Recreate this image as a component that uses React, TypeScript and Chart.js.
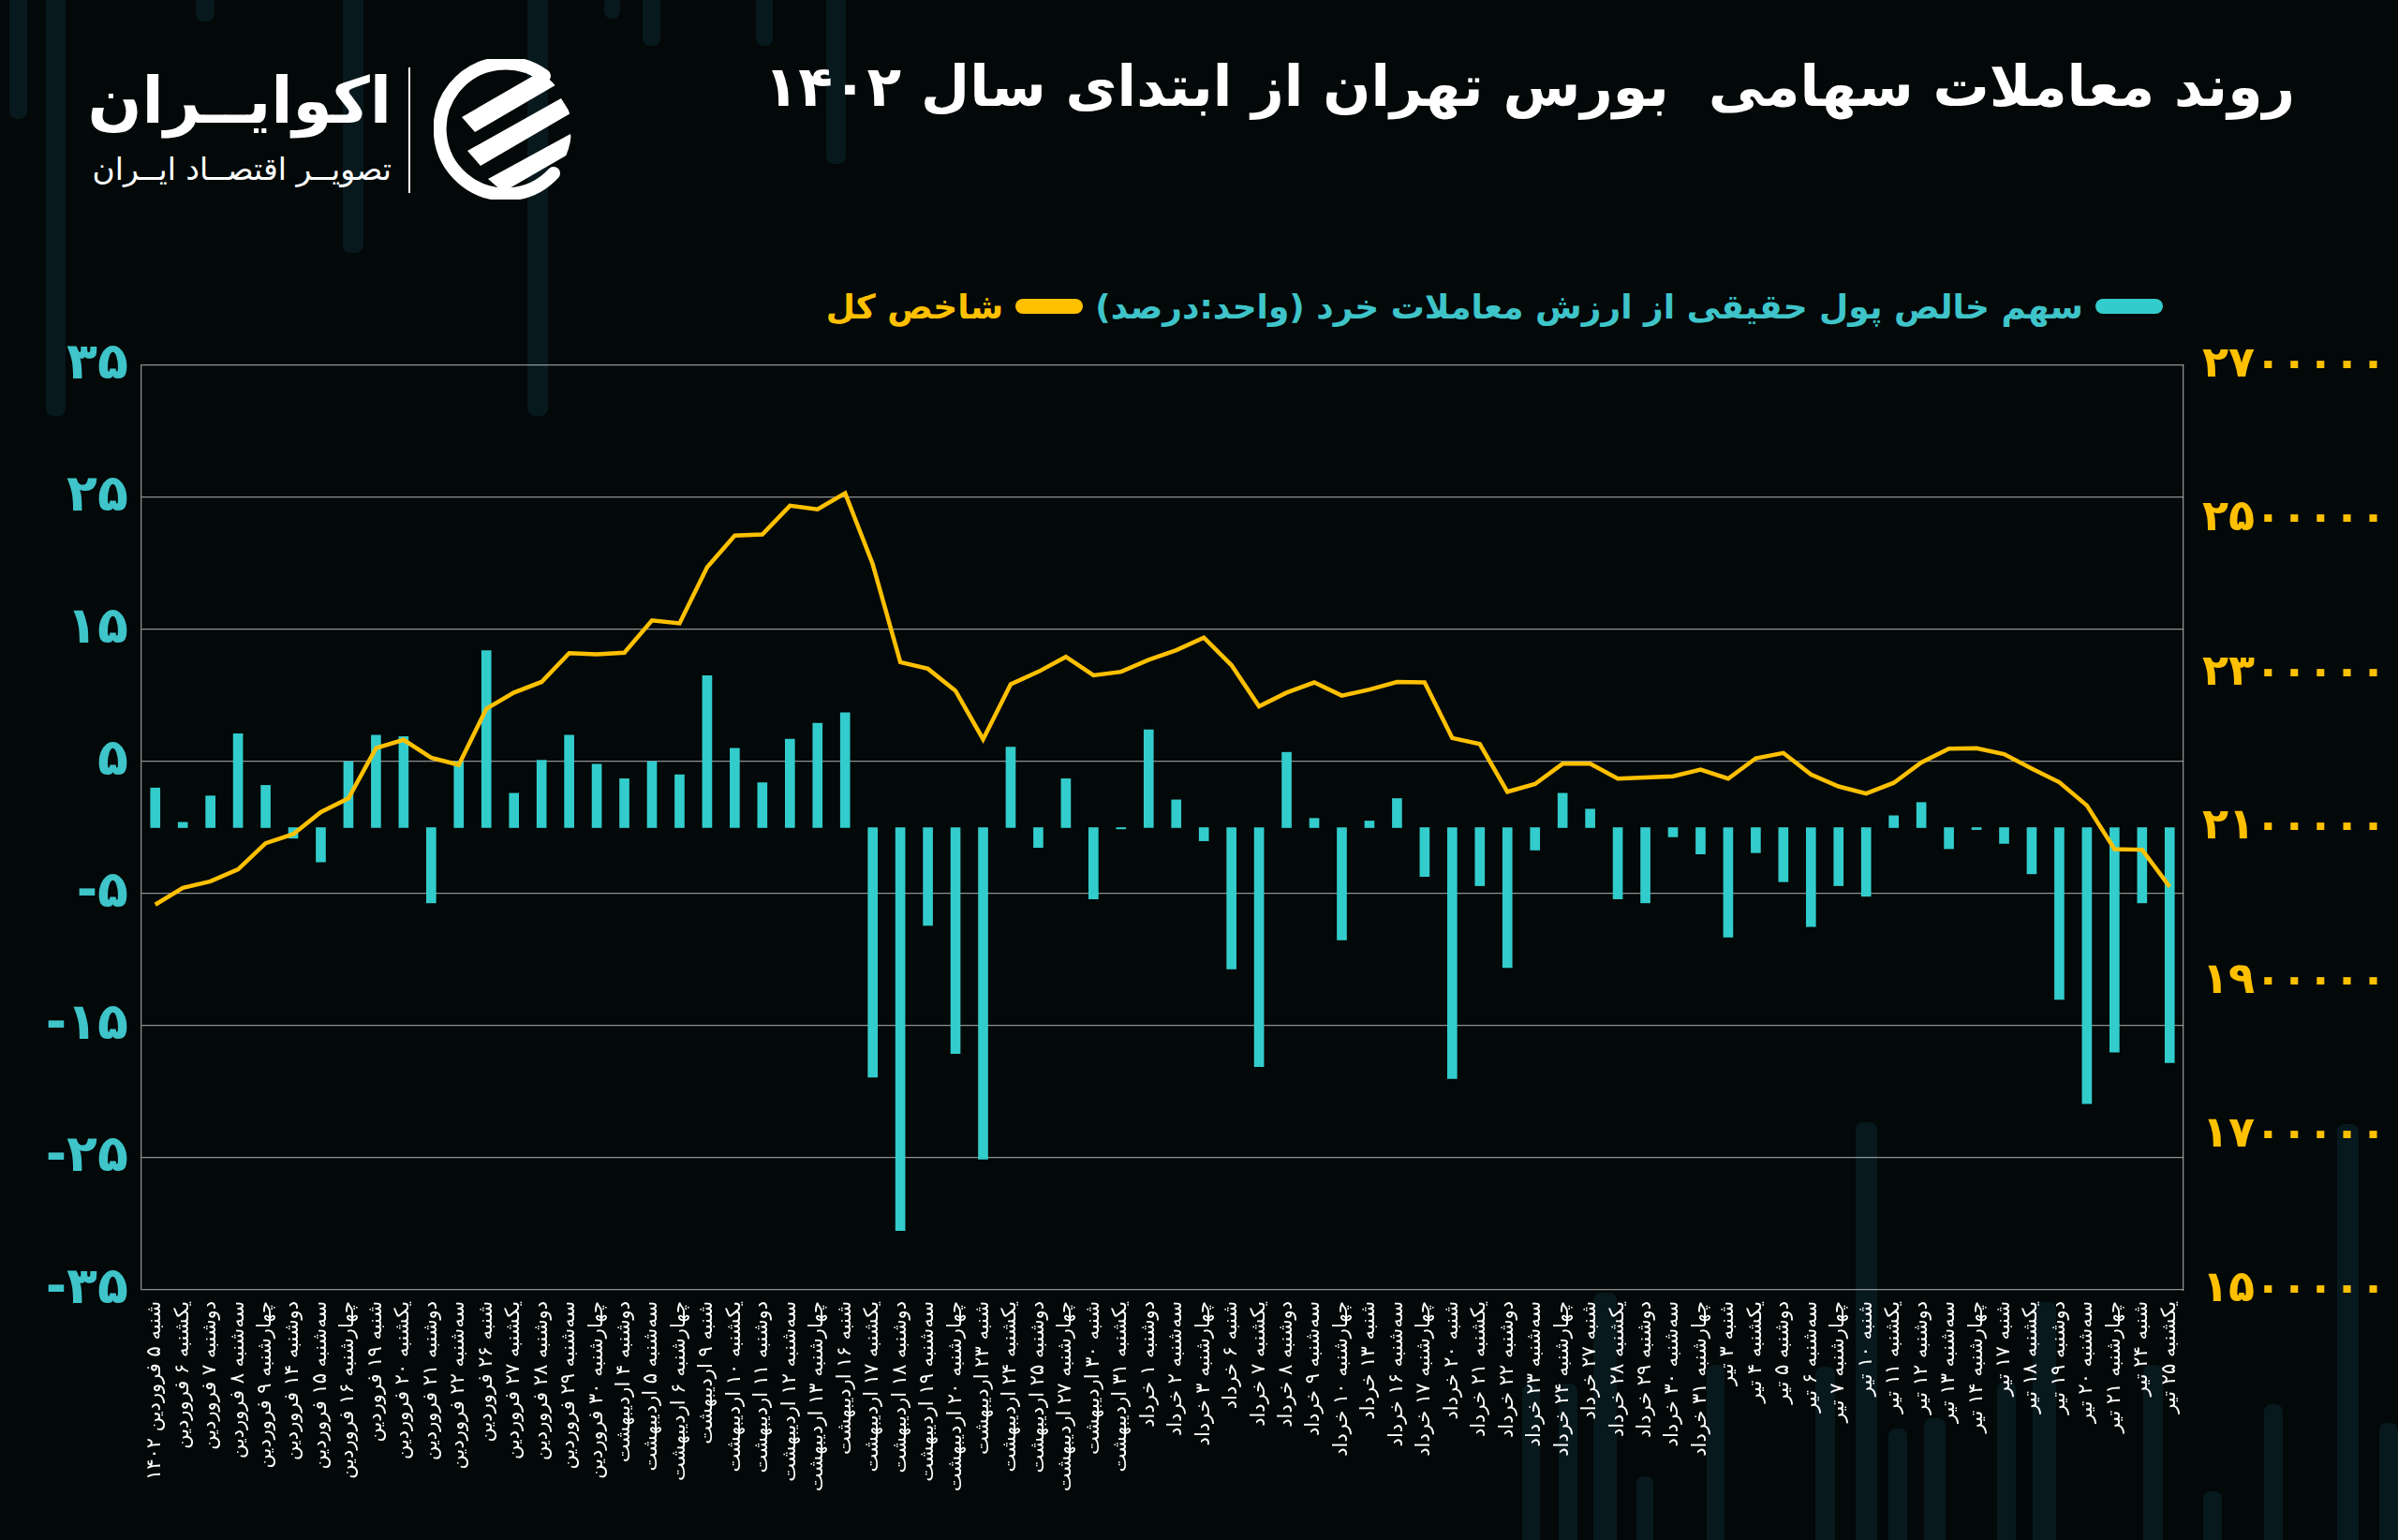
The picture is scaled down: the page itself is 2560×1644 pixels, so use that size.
import React, { useEffect, useRef } from "react";
import { Chart, registerables } from "chart.js";

Chart.register(...registerables);

// ---------------- DATA ----------------
const categories: string[] = [
  "شنبه ۵ فروردین ۱۴۰۲", "یکشنبه ۶ فروردین", "دوشنبه ۷ فروردین", "سه‌شنبه ۸ فروردین", "چهارشنبه ۹ فروردین",
  "دوشنبه ۱۴ فروردین", "سه‌شنبه ۱۵ فروردین", "چهارشنبه ۱۶ فروردین", "شنبه ۱۹ فروردین", "یکشنبه ۲۰ فروردین",
  "دوشنبه ۲۱ فروردین", "سه‌شنبه ۲۲ فروردین", "شنبه ۲۶ فروردین", "یکشنبه ۲۷ فروردین", "دوشنبه ۲۸ فروردین",
  "سه‌شنبه ۲۹ فروردین", "چهارشنبه ۳۰ فروردین", "دوشنبه ۴ اردیبهشت", "سه‌شنبه ۵ اردیبهشت", "چهارشنبه ۶ اردیبهشت",
  "شنبه ۹ اردیبهشت", "یکشنبه ۱۰ اردیبهشت", "دوشنبه ۱۱ اردیبهشت", "سه‌شنبه ۱۲ اردیبهشت", "چهارشنبه ۱۳ اردیبهشت",
  "شنبه ۱۶ اردیبهشت", "یکشنبه ۱۷ اردیبهشت", "دوشنبه ۱۸ اردیبهشت", "سه‌شنبه ۱۹ اردیبهشت", "چهارشنبه ۲۰ اردیبهشت",
  "شنبه ۲۳ اردیبهشت", "یکشنبه ۲۴ اردیبهشت", "دوشنبه ۲۵ اردیبهشت", "چهارشنبه ۲۷ اردیبهشت", "شنبه ۳۰ اردیبهشت",
  "یکشنبه ۳۱ اردیبهشت", "دوشنبه ۱ خرداد", "سه‌شنبه ۲ خرداد", "چهارشنبه ۳ خرداد", "شنبه ۶ خرداد",
  "یکشنبه ۷ خرداد", "دوشنبه ۸ خرداد", "سه‌شنبه ۹ خرداد", "چهارشنبه ۱۰ خرداد", "شنبه ۱۳ خرداد",
  "سه‌شنبه ۱۶ خرداد", "چهارشنبه ۱۷ خرداد", "شنبه ۲۰ خرداد", "یکشنبه ۲۱ خرداد", "دوشنبه ۲۲ خرداد",
  "سه‌شنبه ۲۳ خرداد", "چهارشنبه ۲۴ خرداد", "شنبه ۲۷ خرداد", "یکشنبه ۲۸ خرداد", "دوشنبه ۲۹ خرداد",
  "سه‌شنبه ۳۰ خرداد", "چهارشنبه ۳۱ خرداد", "شنبه ۳ تیر", "یکشنبه ۴ تیر", "دوشنبه ۵ تیر",
  "سه‌شنبه ۶ تیر", "چهارشنبه ۷ تیر", "شنبه ۱۰ تیر", "یکشنبه ۱۱ تیر", "دوشنبه ۱۲ تیر",
  "سه‌شنبه ۱۳ تیر", "چهارشنبه ۱۴ تیر", "شنبه ۱۷ تیر", "یکشنبه ۱۸ تیر", "دوشنبه ۱۹ تیر",
  "سه‌شنبه ۲۰ تیر", "چهارشنبه ۲۱ تیر", "شنبه ۲۴ تیر", "یکشنبه ۲۵ تیر",
];

// سهم خالص پول حقیقی از ارزش معاملات خرد (درصد)
const retailNetShare: number[] = [
  3.0, 0.4, 2.4, 7.1, 3.2, -0.8, -2.6, 5.0, 7.0, 6.9,
  -5.7, 5.0, 13.4, 2.6, 5.1, 7.0, 4.8, 3.7, 5.0, 4.0,
  11.5, 6.0, 3.4, 6.7, 7.9, 8.7, -18.9, -30.5, -7.4, -17.1,
  -25.1, 6.1, -1.5, 3.7, -5.4, -0.1, 7.4, 2.1, -1.0, -10.7,
  -18.1, 5.7, 0.7, -8.5, 0.5, 2.2, -3.7, -19.0, -4.4, -10.6,
  -1.7, 2.6, 1.4, -5.4, -5.7, -0.7, -2.0, -8.3, -1.9, -4.1,
  -7.5, -4.4, -5.2, 0.9, 1.9, -1.6, -0.15, -1.2, -3.5, -13.0,
  -20.9, -17.0, -5.7, -17.8,
];

// شاخص کل
const totalIndex: number[] = [
  2000000, 2021700, 2030200, 2045700, 2079800, 2091500, 2120100, 2138000, 2203100, 2213900,
  2190700, 2181400, 2254300, 2275200, 2289100, 2326400, 2324800, 2327100, 2369000, 2365100,
  2438000, 2479100, 2480600, 2517800, 2513200, 2534100, 2441900, 2314700, 2306200, 2277500,
  2214700, 2286000, 2302300, 2321700, 2297700, 2302300, 2317800, 2330200, 2346500, 2310900,
  2257400, 2275200, 2288400, 2271300, 2279100, 2289100, 2288400, 2216300, 2208500, 2146500,
  2156600, 2182900, 2182900, 2163600, 2165100, 2166700, 2175200, 2163600, 2189900, 2196900,
  2169000, 2153500, 2144200, 2158100, 2184500, 2202300, 2203100, 2195300, 2176700, 2158900,
  2128700, 2072100, 2071300, 2023300,
];

const leftMin = -35;
const leftMax = 35;
const leftStep = 10;
const rightMin = 1500000;
const rightMax = 2700000;
const rightStep = 200000;

const titleText = "روند معاملات سهامی  بورس تهران از ابتدای سال ۱۴۰۲";
const barSeriesName = "سهم خالص پول حقیقی از ارزش معاملات خرد (واحد:درصد)";
const lineSeriesName = "شاخص کل";

// ---------------- STYLE ----------------
const BG = "#030808";
const TEAL = "#33cccc";
const TEAL_TEXT = "#3ec4c9";
const GOLD = "#ffc000";
const GRID = "rgba(190,190,190,0.75)";
const FONT = '"DejaVu Sans", "Noto Sans", sans-serif';
const DECOR = "#08191e";

const faDigits = "۰۱۲۳۴۵۶۷۸۹";
const toFa = (v: number | string) => String(v).replace(/\d/g, (d) => faDigits[Number(d)]);

// decorative faint background columns [left, top, width, height]
const decorCols: number[][] = [
  [10, -10, 19, 137], [49, -10, 21, 454], [209, -10, 20, 33], [366, -10, 22, 280],
  [563, -10, 22, 454], [645, -10, 17, 30], [686, -10, 19, 59], [807, -10, 18, 59],
  [882, -10, 21, 185],
  [1625, 1477, 19, 200], [1664, 1477, 20, 200], [1701, 1380, 25, 300], [1747, 1576, 18, 100],
  [1822, 1457, 19, 200], [1938, 1459, 21, 200], [1981, 1198, 23, 460], [2016, 1525, 20, 130],
  [2054, 1514, 23, 140], [2132, 1475, 20, 180], [2170, 1390, 25, 270], [2288, 1457, 21, 200],
  [2352, 1592, 20, 60], [2417, 1499, 20, 160], [2495, 1200, 23, 460], [2540, 1519, 20, 140],
];

function LogoMark() {
  return (
    <svg width="150" height="150" viewBox="0 0 150 150" style={{ position: "absolute", left: 463, top: 63 }}>
      <defs>
        <clipPath id="cc">
          <circle cx="75" cy="75" r="72" />
        </clipPath>
      </defs>
      <path d="M 118 18 A 70 70 0 1 0 128 122" fill="none" stroke="#fff" strokeWidth="14" strokeLinecap="round" />
      <g clipPath="url(#cc)" fill="#fff">
        <polygon points="30,62 120,10 140,22 44,78" />
        <polygon points="36,98 136,42 146,58 50,114" />
        <polygon points="58,128 146,80 150,98 74,142" />
      </g>
    </svg>
  );
}

export default function App() {
  const canvasRef = useRef<HTMLCanvasElement | null>(null);

  useEffect(() => {
    const canvas = canvasRef.current;
    if (!canvas) return;
    Chart.defaults.font.family = FONT;
    const chart = new Chart(canvas, {
      type: "bar",
      data: {
        labels: categories,
        datasets: [
          {
            type: "line",
            label: lineSeriesName,
            data: totalIndex,
            yAxisID: "y1",
            borderColor: GOLD,
            backgroundColor: GOLD,
            borderWidth: 4.5,
            pointRadius: 0,
            tension: 0,
            fill: false,
            order: 0,
          } as any,
          {
            type: "bar",
            label: barSeriesName,
            data: retailNetShare,
            yAxisID: "y",
            backgroundColor: TEAL,
            barThickness: 10,
            order: 1,
          } as any,
        ],
      },
      options: {
        responsive: false,
        animation: false,
        devicePixelRatio: 1,
        layout: { padding: { top: 90, left: 0, right: 0, bottom: 0 } },
        plugins: {
          legend: { display: false },
          tooltip: { enabled: false },
          title: { display: false },
        },
        scales: {
          x: {
            grid: { display: false, drawTicks: false },
            border: { display: false },
            ticks: {
              autoSkip: false,
              maxRotation: 90,
              minRotation: 90,
              color: "#ffffff",
              font: { size: 21, family: FONT },
              padding: 12,
            },
            afterFit: (s: any) => {
              s.height = 267;
            },
          },
          y: {
            position: "left",
            min: leftMin,
            max: leftMax,
            ticks: {
              stepSize: leftStep,
              callback: (v: any) => toFa(v),
              color: TEAL_TEXT,
              font: { size: 54, weight: "bold", family: FONT },
              padding: 14,
            },
            grid: { color: GRID, lineWidth: 1.3, drawTicks: false },
            border: { display: true, color: GRID, width: 1.3 },
            afterFit: (s: any) => {
              s.width = 151;
            },
          },
          y1: {
            position: "right",
            min: rightMin,
            max: rightMax,
            ticks: {
              stepSize: rightStep,
              callback: (v: any) => toFa(v),
              color: GOLD,
              font: { size: 46, weight: "bold", family: FONT },
              padding: 20,
            },
            grid: { drawOnChartArea: false, drawTicks: false },
            border: { display: true, color: GRID, width: 1.3 },
            afterFit: (s: any) => {
              s.width = 229;
            },
          },
        },
      } as any,
    });
    return () => chart.destroy();
  }, []);

  return (
    <div
      style={{
        position: "fixed",
        left: 0,
        top: 0,
        width: 2560,
        height: 1644,
        background: BG,
        overflow: "hidden",
        fontFamily: FONT,
      }}
    >
      {decorCols.map((c, i) => (
        <div
          key={i}
          style={{
            position: "absolute",
            left: c[0],
            top: c[1],
            width: c[2],
            height: c[3],
            background: DECOR,
            borderRadius: 8,
          }}
        />
      ))}

      {/* logo */}
      <LogoMark />
      <div style={{ position: "absolute", left: 436, top: 72, width: 2, height: 134, background: "#ffffff" }} />
      <div
        dir="rtl"
        style={{
          position: "absolute",
          right: 2560 - 418,
          top: 58,
          color: "#fff",
          fontWeight: "bold",
          fontSize: 68,
          lineHeight: "100px",
          whiteSpace: "nowrap",
        }}
      >
        اکوایــران
      </div>
      <div
        dir="rtl"
        style={{
          position: "absolute",
          right: 2560 - 418,
          top: 158,
          color: "#fff",
          fontSize: 33,
          lineHeight: "46px",
          whiteSpace: "nowrap",
        }}
      >
        تصویــر اقتصــاد ایــران
      </div>

      {/* title */}
      <div
        dir="rtl"
        style={{
          position: "absolute",
          right: 110,
          top: 50,
          color: "#fff",
          fontWeight: "bold",
          fontSize: 60,
          lineHeight: "84px",
          whiteSpace: "pre",
        }}
      >
        {titleText}
      </div>

      {/* legend */}
      <div
        dir="rtl"
        style={{
          position: "absolute",
          right: 251,
          top: 302,
          height: 50,
          display: "flex",
          alignItems: "center",
          whiteSpace: "nowrap",
          fontWeight: "bold",
          fontSize: 36,
        }}
      >
        <span style={{ width: 72, height: 16, borderRadius: 8, background: TEAL, display: "inline-block", marginLeft: 13 }} />
        <span style={{ color: TEAL_TEXT, marginLeft: 13 }}>{barSeriesName}</span>
        <span style={{ width: 72, height: 16, borderRadius: 8, background: GOLD, display: "inline-block", marginLeft: 13 }} />
        <span style={{ color: GOLD }}>{lineSeriesName}</span>
      </div>

      <canvas
        ref={canvasRef}
        width={2560}
        height={1344}
        style={{ position: "absolute", left: 0, top: 300, width: 2560, height: 1344 }}
      />
    </div>
  );
}
